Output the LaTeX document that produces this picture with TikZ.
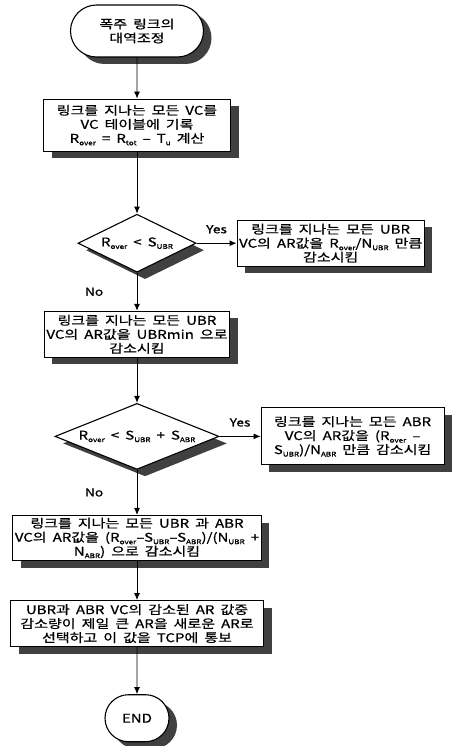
\documentclass[tikz,border=0pt]{standalone}
\usepackage{fontspec}
\setmainfont{Noto Sans CJK KR}[FakeStretch=1.25,WordSpace=1.8,FakeBold=0.8]
\usetikzlibrary{arrows.meta,positioning,shapes.geometric,shapes.misc}
\newcommand{\lo}[1]{\raisebox{-2.5pt}{\fontsize{6.5}{7}\selectfont #1}}

\begin{document}
\begin{tikzpicture}[x=1pt, y=1pt, every node/.style={align=center, font=\fontsize{12}{14}\selectfont}]
\tikzset{
  withshadow/.style={preaction={draw=none, fill=black!75, transform canvas={shift={(8pt,-7pt)}}}},
  term/.style={rounded rectangle, draw, line width=1.1pt, fill=white, withshadow, inner sep=2pt},
  proc/.style={rectangle, draw, line width=1.1pt, fill=white, withshadow, inner sep=2pt},
  test/.style={diamond, draw, line width=1.1pt, fill=white, withshadow, inner sep=0pt, aspect=2.3},
  flow/.style={-{Latex[length=7pt,width=6pt]}, line width=0.9pt},
  lbl/.style={font=\fontsize{11}{12}\selectfont}
}
\useasboundingbox (0,0) rectangle (453,-746);

\node[term, minimum width=137pt, minimum height=52pt] (start) at (137,-31) {폭주 링크의\\대역조정};
\node[proc, minimum width=187pt, minimum height=52pt, below=41pt of start] (record) {링크를 지나는 모든 VC를\\VC 테이블에 기록\\R\lo{over} = R\lo{tot} – T\lo{u} 계산};
\node[test, minimum width=118pt, minimum height=58pt, below=62pt of record] (over1) {R\lo{over} < S\lo{UBR}};
\node[proc, minimum width=165pt, minimum height=46pt, right=40pt of over1] (cutubr) {링크를 지나는 모든 UBR\\VC의 AR값을 R\lo{over}/N\lo{UBR} 만큼\\감소시킴};
\node[proc, minimum width=180pt, minimum height=46pt, below=38pt of over1] (ubrmin) {링크를 지나는 모든 UBR\\VC의 AR값을 UBRmin 으로\\감소시킴};
\node[test, minimum width=164pt, minimum height=66pt, below=45pt of ubrmin] (over2) {R\lo{over} < S\lo{UBR} + S\lo{ABR}};
\node[proc, minimum width=183pt, minimum height=57pt, right=41pt of over2] (cutabr) {링크를 지나는 모든 ABR\\VC의 AR값을 (R\lo{over} –\\S\lo{UBR})/N\lo{ABR} 만큼 감소시킴};
\node[proc, minimum width=235pt, minimum height=45pt, below=45pt of over2] (cutboth) {링크를 지나는 모든 UBR 과 ABR\\VC의 AR값을 (R\lo{over}–S\lo{UBR}–S\lo{ABR})/(N\lo{UBR} +\\N\lo{ABR}) 으로 감소시킴};
\node[proc, minimum width=253pt, minimum height=46pt, below=39pt of cutboth] (notify) {UBR과 ABR VC의 감소된 AR 값중\\감소량이 제일 큰 AR을 새로운 AR로\\선택하고 이 값을 TCP에 통보};
\node[term, minimum width=68pt, minimum height=47pt, below=47pt of notify] (end) {END};

\draw[flow] (start) -- (record);
\draw[flow] (record) -- (over1);
\draw[flow] (over1) -- node[lbl, above=6pt] {Yes} (cutubr);
\draw[flow] (over1) -- node[lbl, left=30pt] {No} (ubrmin);
\draw[flow] (ubrmin) -- (over2);
\draw[flow] (over2) -- node[lbl, above=6pt] {Yes} (cutabr);
\draw[flow] (over2) -- node[lbl, left=30pt] {No} (cutboth);
\draw[flow] (cutboth) -- (notify);
\draw[flow] (notify) -- (end);
\end{tikzpicture}
\end{document}
